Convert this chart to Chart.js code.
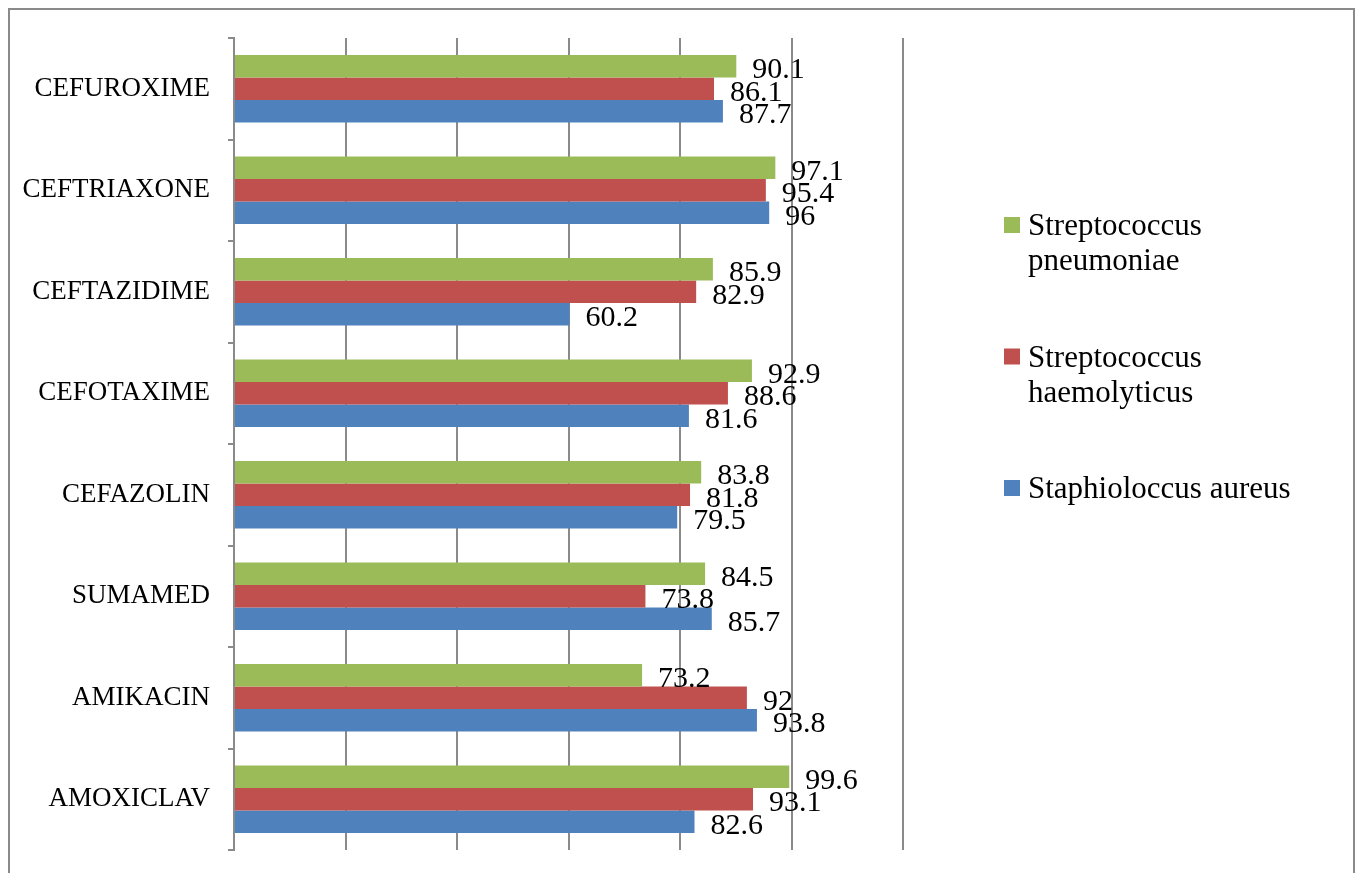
<!DOCTYPE html>
<html lang="en">
<head>
  <meta charset="UTF-8" />
  <title>Antibiotic sensitivity</title>
  <script src="https://cdn.jsdelivr.net/npm/chart.js"></script>
  <style>
    html, body { margin: 0; padding: 0; background: #fff; }
    #wrap { width: 1358px; height: 873px; }
  </style>
</head>
<body>
  <div id="wrap"><canvas id="abChart" width="1358" height="873"></canvas></div>

  <script>
    // categories, top to bottom
    const drugs = ["CEFUROXIME", "CEFTRIAXONE", "CEFTAZIDIME", "CEFOTAXIME",
                   "CEFAZOLIN", "SUMAMED", "AMIKACIN", "AMOXICLAV"];
    const pneumoniae   = [90.1, 97.1, 85.9, 92.9, 83.8, 84.5, 73.2, 99.6];
    const haemolyticus = [86.1, 95.4, 82.9, 88.6, 81.8, 73.8, 92.0, 93.1];
    const aureus       = [87.7, 96.0, 60.2, 81.6, 79.5, 85.7, 93.8, 82.6];
    const seriesNames  = ["Streptococcus pneumoniae", "Streptococcus haemolyticus", "Staphioloccus aureus"];
    const xMin = 0, xMax = 120, xStep = 20;

    const serif = "'Liberation Serif', 'Times New Roman', serif";
    const gridGray = "#8a8a8a";
    Chart.defaults.font.family = serif;
    Chart.defaults.color = "#000";

    // outer frame
    const framePlugin = {
      id: "frame",
      beforeDraw(chart) {
        const c = chart.ctx;
        c.save();
        c.strokeStyle = gridGray;
        c.lineWidth = 2;
        c.strokeRect(9, 9, 1345, 900);
        c.restore();
      }
    };

    // value labels at bar ends
    const valueLabels = {
      id: "valueLabels",
      afterDatasetsDraw(chart) {
        const c = chart.ctx;
        c.save();
        c.font = "30px " + serif;
        c.fillStyle = "#000";
        c.textAlign = "left";
        c.textBaseline = "alphabetic";
        chart.data.datasets.forEach((ds, i) => {
          chart.getDatasetMeta(i).data.forEach((bar, j) => {
            c.fillText(String(ds.data[j]), bar.x + 16, bar.y + 12);
          });
        });
        c.restore();
      }
    };

    // legend on the right, wrapped text
    const sideLegend = {
      id: "sideLegend",
      afterDraw(chart) {
        const c = chart.ctx;
        const boxX = 1004, textX = 1028, maxW = 300;
        let top = 217;
        c.save();
        c.font = "31px " + serif;
        c.fillStyle = "#000";
        c.textBaseline = "alphabetic";
        chart.data.datasets.forEach(ds => {
          const words = ds.label.split(" ");
          const lines = [];
          let cur = "";
          words.forEach(w => {
            const t = cur ? cur + " " + w : w;
            if (cur && c.measureText(t).width > maxW) { lines.push(cur); cur = w; }
            else cur = t;
          });
          lines.push(cur);
          c.fillStyle = ds.backgroundColor;
          c.fillRect(boxX, top, 16, 16);
          c.fillStyle = "#000";
          lines.forEach((ln, k) => c.fillText(ln, textX, top + 18 + k * 35));
          top += 131.5;
        });
        c.restore();
      }
    };

    new Chart(document.getElementById("abChart"), {
      type: "bar",
      data: {
        labels: drugs,
        datasets: [
          { label: seriesNames[0], data: pneumoniae,   backgroundColor: "#9BBB59" },
          { label: seriesNames[1], data: haemolyticus, backgroundColor: "#C0504D" },
          { label: seriesNames[2], data: aureus,       backgroundColor: "#4F81BD" }
        ]
      },
      options: {
        indexAxis: "y",
        responsive: false,
        animation: false,
        categoryPercentage: 0.664,
        barPercentage: 1.0,
        layout: { padding: { top: 38, right: 455, bottom: 23, left: 0 } },
        plugins: {
          legend: { display: false },
          tooltip: { enabled: false }
        },
        scales: {
          x: {
            min: xMin,
            max: xMax,
            ticks: { stepSize: xStep, display: false },
            grid: { color: gridGray, lineWidth: 2, drawTicks: false },
            border: { display: false },
            afterFit(scale) { scale.height = 0; scale.paddingLeft = 0; scale.paddingRight = 0; }
          },
          y: {
            ticks: { font: { size: 27 }, padding: 18, color: "#000" },
            grid: { drawOnChartArea: false, drawTicks: true, tickLength: 6, color: gridGray, lineWidth: 2, offset: true },
            border: { display: true, color: gridGray, width: 2 },
            afterFit(scale) { scale.width = 234; scale.paddingTop = 0; scale.paddingBottom = 0; }
          }
        }
      },
      plugins: [framePlugin, valueLabels, sideLegend]
    });
  </script>
</body>
</html>
